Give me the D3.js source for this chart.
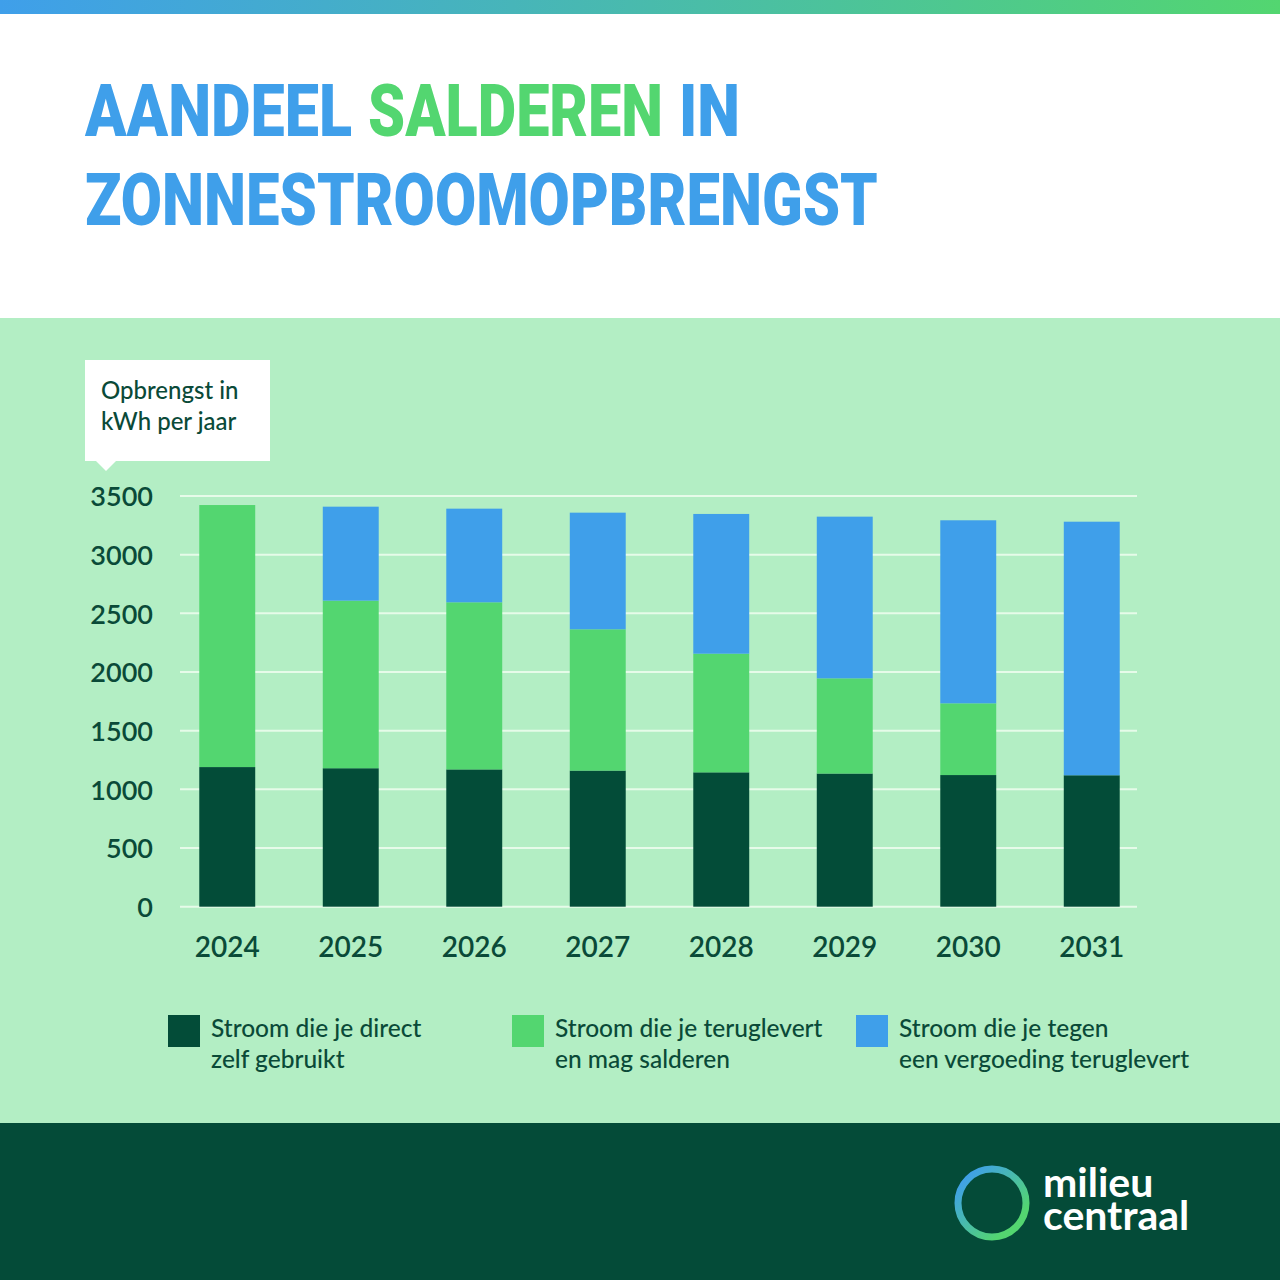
<!DOCTYPE html>
<html>
<head>
<meta charset="utf-8">
<script src="https://cdn.jsdelivr.net/npm/d3@7"></script>
<style>
  html, body { margin: 0; padding: 0; background: #ffffff; }
  svg { display: block; }
</style>
</head>
<body>
<svg id="chart" width="1280" height="1280"></svg>
<script>
// ---------- data ----------
const years = ["2024", "2025", "2026", "2027", "2028", "2029", "2030", "2031"];
const selfUse   = [1190, 1180, 1170, 1160, 1145, 1135, 1122, 1120];
const netted    = [2233, 1428, 1424, 1204, 1011, 811, 611, 0];
const paidBack  = [0, 801, 798, 994, 1191, 1378, 1560, 2161];
const yTicks    = [0, 500, 1000, 1500, 2000, 2500, 3000, 3500];
const seriesKeys = ["self", "netted", "paid"];
const seriesColors = ["#034c38", "#53d670", "#3f9fea"];
const legendLabels = [
  ["Stroom die je direct", "zelf gebruikt"],
  ["Stroom die je teruglevert", "en mag salderen"],
  ["Stroom die je tegen", "een vergoeding teruglevert"]
];
const titleWords1 = ["AANDEEL", "SALDEREN", "IN"];
const titleColors1 = ["#3f9fea", "#53d670", "#3f9fea"];
const titleLine2 = "ZONNESTROOMOPBRENGST";
const yLabel = ["Opbrengst in", "kWh per jaar"];
const logoLines = ["milieu", "centraal"];

// ---------- setup ----------
const svg = d3.select("#chart");
const W = 1280, H = 1280;
const ink = "#0a4a38";
const bodyFont = "Lato, 'Open Sans', sans-serif";

const defs = svg.append("defs");
const topGrad = defs.append("linearGradient").attr("id", "topGrad").attr("x1", "0").attr("x2", "1");
topGrad.append("stop").attr("offset", "0").attr("stop-color", "#3f9fea");
topGrad.append("stop").attr("offset", "1").attr("stop-color", "#53d670");
const ringGrad = defs.append("linearGradient").attr("id", "ringGrad")
  .attr("x1", "0").attr("y1", "0").attr("x2", "1").attr("y2", "1");
ringGrad.append("stop").attr("offset", "0.1").attr("stop-color", "#3f9fea");
ringGrad.append("stop").attr("offset", "0.8").attr("stop-color", "#53d670");

// backgrounds
svg.append("rect").attr("x", 0).attr("y", 0).attr("width", W).attr("height", H).attr("fill", "#ffffff");
svg.append("rect").attr("x", 0).attr("y", 0).attr("width", W).attr("height", 14).attr("fill", "url(#topGrad)");
svg.append("rect").attr("x", 0).attr("y", 318).attr("width", W).attr("height", 806).attr("fill", "#b3eec4");
svg.append("rect").attr("x", 0).attr("y", 1123).attr("width", W).attr("height", 157).attr("fill", "#044b38");

// title (condensed by horizontal scaling to the target widths)
const titleFont = "Roboto, 'DejaVu Sans', sans-serif";
function condensedText(str, x0, y0, targetW, color) {
  const t = svg.append("text").attr("x", 0).attr("y", 0)
    .attr("font-family", titleFont).attr("font-weight", 900).attr("font-size", 72)
    .attr("fill", color).text(str);
  const natural = t.node().getComputedTextLength();
  t.attr("transform", `translate(${x0},${y0}) scale(${targetW / natural},1)`);
  return t;
}
const titleX = [85, 368, 679];
const titleLen = [267, 295, 61];
titleWords1.forEach((s, i) => condensedText(s, titleX[i], 136, titleLen[i], titleColors1[i]));
condensedText(titleLine2, 85, 225, 793, "#3f9fea");

// ---------- chart ----------
const y = d3.scaleLinear().domain([0, 3500]).range([906.7, 496]);
const x = d3.scaleBand().domain(years).range([165.5, 1153.5]).paddingInner(0.547).paddingOuter(0.2735);

// gridlines
svg.append("g").selectAll("line").data(yTicks).join("line")
  .attr("x1", 180).attr("x2", 1137)
  .attr("y1", d => y(d)).attr("y2", d => y(d))
  .attr("stroke", "#e6fbe9").attr("stroke-width", 2);

// y axis labels
const yAxis = d3.axisLeft(y).tickValues(yTicks).tickSize(0).tickPadding(0).tickFormat(d => String(d));
const gy = svg.append("g").attr("transform", "translate(153,0)").call(yAxis);
gy.select(".domain").remove();
gy.selectAll("text").attr("font-family", bodyFont).attr("font-weight", 600)
  .attr("font-size", 27).attr("fill", ink).attr("dy", "0.36em");

// x axis labels
const xAxis = d3.axisBottom(x).tickSize(0).tickPadding(0);
const gx = svg.append("g").attr("transform", "translate(0,947)").call(xAxis);
gx.select(".domain").remove();
gx.selectAll("text").attr("font-family", bodyFont).attr("font-weight", 600)
  .attr("font-size", 28).attr("fill", ink).attr("dy", "0.36em");

// stacked bars
const table = years.map((yr, i) => ({ year: yr, self: selfUse[i], netted: netted[i], paid: paidBack[i] }));
const stack = d3.stack().keys(seriesKeys)(table);
svg.append("g").selectAll("g").data(stack).join("g")
  .attr("fill", (d, i) => seriesColors[i])
  .selectAll("rect").data(d => d.filter(p => p[1] > p[0])).join("rect")
  .attr("x", d => x(d.data.year))
  .attr("width", x.bandwidth())
  .attr("y", d => y(d[1]))
  .attr("height", d => y(d[0]) - y(d[1]));

// y label callout
svg.append("rect").attr("x", 85).attr("y", 360).attr("width", 185).attr("height", 101).attr("fill", "#ffffff");
svg.append("path").attr("d", "M95,460 L117,460 L106,471 Z").attr("fill", "#ffffff");
yLabel.forEach((s, i) => {
  svg.append("text").attr("x", 101).attr("y", 399 + i * 31)
    .attr("font-family", bodyFont).attr("font-weight", 500).attr("font-size", 24)
    .attr("fill", ink).text(s);
});

// legend
const legendX = [168, 512, 856];
legendLabels.forEach((lines, i) => {
  svg.append("rect").attr("x", legendX[i]).attr("y", 1015).attr("width", 32).attr("height", 32)
    .attr("fill", seriesColors[i]);
  lines.forEach((s, j) => {
    svg.append("text").attr("x", legendX[i] + 43).attr("y", 1037 + j * 31)
      .attr("font-family", bodyFont).attr("font-weight", 500).attr("font-size", 24.5)
      .attr("fill", ink).text(s);
  });
});

// logo
svg.append("circle").attr("cx", 992).attr("cy", 1203).attr("r", 34)
  .attr("fill", "none").attr("stroke", "url(#ringGrad)").attr("stroke-width", 7);
const logoText = svg.append("text").attr("x", 1043).attr("y", 1197)
  .attr("font-family", bodyFont).attr("font-weight", 700).attr("font-size", 41)
  .attr("fill", "#ffffff");
logoLines.forEach((s, i) => {
  logoText.append("tspan").attr("x", 1043).attr("dy", i === 0 ? 0 : 33).text(s);
});
</script>
</body>
</html>
